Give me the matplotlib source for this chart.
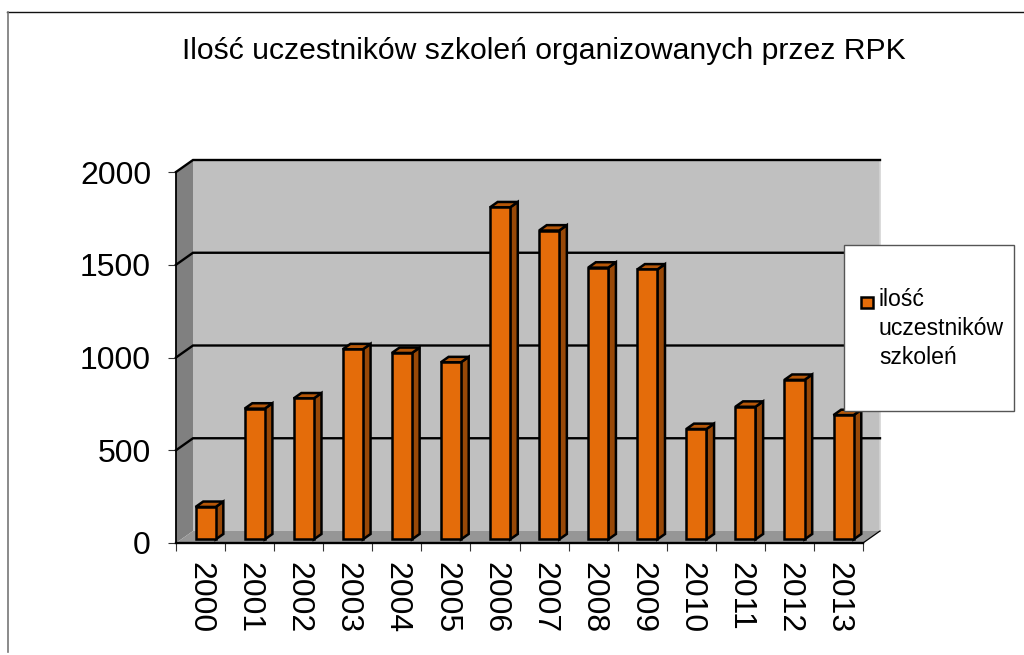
import numpy as np
import matplotlib
matplotlib.use("Agg")
import matplotlib.pyplot as plt
from matplotlib.patches import Polygon, Rectangle
from matplotlib.lines import Line2D

plt.rcParams['font.family'] = ['Liberation Sans', 'DejaVu Sans']

# Data
years = ['2000', '2001', '2002', '2003', '2004', '2005', '2006',
         '2007', '2008', '2009', '2010', '2011', '2012', '2013']
participants = [175, 705, 760, 1025, 1005, 955, 1790,
                1665, 1465, 1455, 595, 715, 860, 670]
yticks = [0, 500, 1000, 1500, 2000]
title = 'Ilość uczestników szkoleń organizowanych przez RPK'
series_name = 'ilość\nuczestników\nszkoleń'

W, H = 1024, 655
fig = plt.figure(figsize=(W/100, H/100), dpi=100)

# front plane of the fake 3d box
left, right, top, bottom = 176, 863, 172, 543
ax = fig.add_axes([left/W, 1-bottom/H, (right-left)/W, (bottom-top)/H])
ax.set_xlim(0, len(years))
ax.set_ylim(0, 2000)
for s in ax.spines.values():
    s.set_visible(False)
ax.patch.set_visible(False)

# depth of the box in data units (17 px across, 12 px up)
ddx = 17/(right-left)*len(years)
ddy = 12/(bottom-top)*2000
n = len(years)

def poly(pts, fc, ec='none', lw=0, z=1):
    ax.add_patch(Polygon(pts, closed=True, facecolor=fc, edgecolor=ec,
                         linewidth=lw, zorder=z, clip_on=False, joinstyle='miter'))

# walls
poly([(0, 0), (ddx, ddy), (ddx, 2000+ddy), (0, 2000)], '#808080')
poly([(ddx, ddy), (n+ddx, ddy), (n+ddx, 2000+ddy), (ddx, 2000+ddy)], '#c0c0c0', z=1)
poly([(0, 0), (n, 0), (n+ddx, ddy), (ddx, ddy)], '#969696', z=1.5)
ax.plot([n+ddx, n+ddx], [ddy, 2000+ddy], color='#d4d4d4', lw=1.2, zorder=1.6, clip_on=False)

# grid lines, along side wall and back wall
for v in yticks[1:]:
    ax.plot([0, ddx, n+ddx], [v, v+ddy, v+ddy], color='black', lw=1.7, zorder=2,
            clip_on=False, solid_joinstyle='miter')
ax.plot([n, n+ddx], [0, ddy], color='black', lw=0.9, zorder=2, clip_on=False)
ax.plot([0, n], [0, 0], color='black', lw=1.7, zorder=2.5, clip_on=False)
ax.plot([0, 0], [0, 2000], color='black', lw=1.3, zorder=2.5, clip_on=False)

# bars
bw = 0.41
f0, f1 = 0.30, 0.75
orange, side, lid = '#e46c0a', '#984807', '#b65708'
for i, v in enumerate(participants):
    x0 = i + 0.5 - bw/2 + f0*ddx
    x1 = x0 + bw
    y0 = f0*ddy
    y1 = y0 + v
    sx = (f1-f0)*ddx
    sy = (f1-f0)*ddy
    poly([(x1, y0), (x1+sx, y0+sy), (x1+sx, y1+sy), (x1, y1)], side, 'black', 1.8, 3)
    poly([(x0, y1), (x1, y1), (x1+sx, y1+sy), (x0+sx, y1+sy)], lid, 'black', 1.8, 3)
    poly([(x0, y0), (x1, y0), (x1, y1), (x0, y1)], orange, 'black', 1.8, 3)

# ticks
ax.set_yticks(yticks)
ax.set_xticks(np.arange(n+1))
ax.set_xticklabels([])
ax.tick_params(axis='both', which='major', length=6, width=0.8, color='#333333')
ax.tick_params(axis='y', labelsize=23, pad=12)
ax.set_xticks(np.arange(n)+0.5, minor=True)
ax.set_xticklabels(years, minor=True, rotation=-90, fontsize=23, va='top', ha='center')
ax.tick_params(axis='x', which='minor', length=0, pad=14)

# title
fig.text(544/W, 1-51/H, title, ha='center', va='center', fontsize=21.7)

# outer frame
fig.add_artist(Line2D([7/W, 1], [1-11.5/H, 1-11.5/H], color='#111111', lw=1))
fig.add_artist(Line2D([7.5/W, 7.5/W], [0.005, 1-11.5/H], color='#777777', lw=1.2))

# legend box
fig.add_artist(Rectangle((843.5/W, 1-410.5/H), 170/W, 165.5/H, facecolor='white',
                         edgecolor='#555555', lw=1, zorder=6))
fig.add_artist(Rectangle((861/W, 1-308/H), 12/W, 11/H, facecolor=orange,
                         edgecolor='black', lw=1.8, zorder=7))
fig.text(879/W, 1-288/H, series_name, ha='left', va='top', fontsize=16.6,
         linespacing=1.33, zorder=7)

fig.savefig('out.png', dpi=100)
